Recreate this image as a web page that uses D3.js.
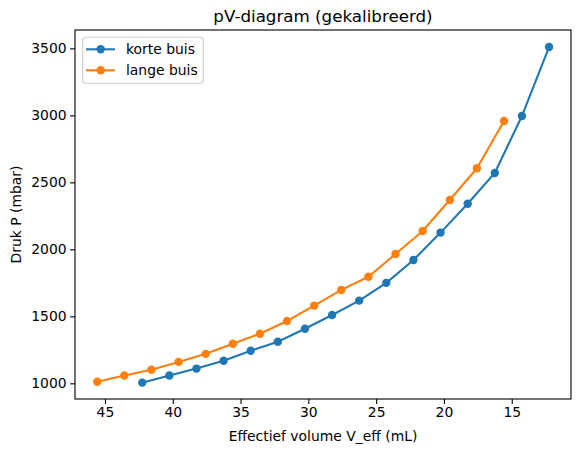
<!DOCTYPE html>
<html><head><meta charset="utf-8">
<script src="https://cdn.jsdelivr.net/npm/d3@7"></script>
<style>body{margin:0;background:#fff}text{font-family:"DejaVu Sans",sans-serif;fill:#000}</style>
</head><body>
<svg id="c" width="580" height="453"></svg>
<script>
const volShort = [42.25,40.25,38.25,36.25,34.25,32.25,30.25,28.25,26.25,24.25,22.25,20.25,18.25,16.25,14.25,12.25];
const pShort = [1005,1058,1110,1168,1243,1310,1407,1510,1617,1750,1920,2125,2340,2570,2995,3510];
const volLong = [45.57,43.57,41.57,39.57,37.57,35.57,33.57,31.57,29.57,27.57,25.57,23.57,21.57,19.57,17.57,15.57];
const pLong = [1012,1058,1102,1160,1220,1295,1370,1465,1580,1697,1795,1965,2137,2368,2605,2958];
const xTicks = [45,40,35,30,25,20,15];
const yTicks = [1000,1500,2000,2500,3000,3500];
const seriesNames = ["korte buis","lange buis"];
const colors = ["#1f77b4","#ff7f0e"];

const L=75,R=571,T=30,B=399;
const svg=d3.select("#c");
const x=d3.scaleLinear().domain([47.21,10.63]).range([L,R]);
const y=d3.scaleLinear().domain([883,3637]).range([B,T]);

const series=[
  volShort.map((v,i)=>[v,pShort[i]]),
  volLong.map((v,i)=>[v,pLong[i]])
];
const line=d3.line().x(d=>x(d[0])).y(d=>y(d[1]));
series.forEach((s,k)=>{
  svg.append("path").datum(s).attr("d",line).attr("fill","none").attr("stroke",colors[k]).attr("stroke-width",2.08);
  svg.selectAll(null).data(s).enter().append("circle").attr("cx",d=>x(d[0])).attr("cy",d=>y(d[1])).attr("r",4.2).attr("fill",colors[k]);
});

const xa=svg.append("g").attr("transform",`translate(0,${B})`).call(d3.axisBottom(x).tickValues(xTicks).tickSize(4.9).tickPadding(3.5).tickFormat(d3.format("d")));
const ya=svg.append("g").attr("transform",`translate(${L},0)`).call(d3.axisLeft(y).tickValues(yTicks).tickSize(4.9).tickPadding(3.5).tickFormat(d3.format("d")));
[xa,ya].forEach(a=>{a.select(".domain").remove();a.selectAll("line").attr("stroke","#000").attr("stroke-width",1.1);a.selectAll("text").attr("font-size",13.9).attr("font-family","DejaVu Sans").attr("fill","#000");});

svg.append("rect").attr("x",L).attr("y",T).attr("width",R-L).attr("height",B-T).attr("fill","none").attr("stroke","#000").attr("stroke-width",1.1);

svg.append("text").attr("x",(L+R)/2).attr("y",22).attr("text-anchor","middle").attr("font-size",16.7).text("pV-diagram (gekalibreerd)");
svg.append("text").attr("x",(L+R)/2).attr("y",441).attr("text-anchor","middle").attr("font-size",13.9).text("Effectief volume V_eff (mL)");
svg.append("text").attr("transform",`translate(21,${(T+B)/2}) rotate(-90)`).attr("text-anchor","middle").attr("font-size",13.9).text("Druk P (mbar)");

const lg=svg.append("g");
lg.append("rect").attr("x",82.7).attr("y",37.3).attr("width",120.6).attr("height",46).attr("rx",3).attr("fill","#fff").attr("fill-opacity",0.8).attr("stroke","#ccc").attr("stroke-width",1.1);
seriesNames.forEach((n,k)=>{
  const yy=49.3+k*21;
  lg.append("line").attr("x1",86).attr("x2",115).attr("y1",yy).attr("y2",yy).attr("stroke",colors[k]).attr("stroke-width",2.08);
  lg.append("circle").attr("cx",100.7).attr("cy",yy).attr("r",4.2).attr("fill",colors[k]);
  lg.append("text").attr("x",126).attr("y",yy).attr("dy","0.35em").attr("font-size",13.9).text(n);
});
</script>
</body></html>
